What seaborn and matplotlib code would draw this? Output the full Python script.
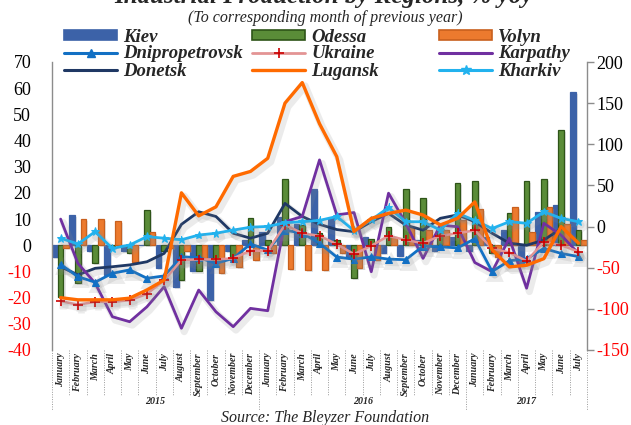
import numpy as np
import pandas as pd
import matplotlib
matplotlib.use("Agg")
import matplotlib.pyplot as plt
import matplotlib.patheffects as pe
import matplotlib.transforms as mtransforms
from matplotlib.lines import Line2D
from matplotlib.patches import Patch
import seaborn as sns

# ---------------- data ----------------
month_names = ["January", "February", "March", "April", "May", "June", "July",
               "August", "September", "October", "November", "December"]
month_labels = month_names + month_names + month_names[:7]
years = ["2015", "2016", "2017"]

# bars (left axis, %)
kiev = [-4.4, 11.6, -2.0, -11.3, -2.0, 0.0, -8.8, -15.8, -10.0, -20.9, -2.0, 2.0,
        5.0, 10.9, 8.0, 21.4, 10.4, -5.0, 3.0, -3.0, -4.0, 2.0, -2.0, 3.0,
        -2.0, 3.0, 5.9, -8.1, 12.8, 15.4, 58.6]
odessa = [-19.6, -14.5, -6.9, -1.0, -3.1, 13.5, -2.0, -13.3, -10.0, -6.9, -5.7, 10.3,
          2.0, 25.5, 7.8, 4.5, 2.0, -12.6, 2.5, 7.1, 21.4, 18.0, 7.0, 23.7,
          24.5, -3.0, 12.2, 24.7, 25.5, 44.0, 5.7]
volyn = [-1.0, 10.0, 10.0, 9.4, -6.3, 5.0, -1.0, -2.0, -5.1, -10.7, -8.3, -5.7,
         -3.0, -8.9, -9.5, -9.4, -3.0, -8.5, -5.7, 3.0, 7.0, 5.7, 5.7, 9.7,
         14.0, -4.3, 14.6, 5.0, 14.6, 8.3, 2.0]

# lines (left axis, %)
dnipro = [-7.3, -12.0, -14.1, -10.7, -9.4, -12.6, -11.7, -4.4, -4.7, -6.9, -5.0, 0.5,
          -1.8, 5.8, 4.6, 0.8, -4.5, -5.3, -4.4, -5.3, -5.5, -0.3, -0.6, -1.0,
          2.5, -10.0, -5.9, -5.2, -1.2, -3.1, -4.3]
ukraine = [-21.3, -22.7, -21.6, -21.6, -21.0, -18.6, -13.4, -5.6, -5.4, -5.4, -5.0, -2.1,
           -2.1, 7.8, 4.6, 3.6, 0.4, -3.4, -0.2, 3.6, 2.0, 0.8, 3.6, 4.6,
           5.7, -1.2, -2.8, -6.0, 1.3, 0.0, -2.4]
karpathy = [10.0, -6.9, -14.5, -27.3, -29.2, -23.5, -15.8, -31.7, -17.1, -25.4, -31.1, -24.1,
            -25.0, 9.0, 11.0, 32.6, 11.6, 12.5, -10.1, 19.9, 8.4, -5.0, 7.7, 7.1,
            -6.6, -10.1, 2.7, -16.4, 8.4, 3.9, -3.1]
donetsk = [-8.2, -11.3, -8.8, -8.2, -7.5, -6.3, -3.1, 8.0, 12.8, 11.0, 4.6, 2.7,
           4.6, 16.0, 11.0, 8.0, 6.0, 5.2, 9.0, 12.2, 7.7, 5.8, 10.3, 11.6,
           9.0, 4.6, 0.8, 0.0, 2.0, 6.4, np.nan]
kharkiv = [2.7, 0.5, 5.2, -1.2, 0.1, 3.3, 2.7, 2.1, 3.9, 4.6, 5.8, 6.9,
           7.2, 8.6, 9.0, 9.5, 11.0, 5.6, 9.7, 14.4, 9.0, 9.0, 5.8, 12.2,
           9.5, 6.4, 9.0, 8.4, 12.8, 10.3, 9.0]
# line (right axis, %)
lugansk = [-86.4, -89.0, -89.0, -89.0, -87.0, -77.0, -65.0, 41.0, 13.0, 24.0, 61.0, 67.0,
           83.0, 150.0, 175.0, 125.0, 85.0, -6.0, 10.0, 16.0, 20.0, 14.0, 2.0, 10.0,
           30.0, -28.0, -49.0, -47.0, -39.0, 0.0, -20.0]

# ---------------- styling ----------------
sns.set_theme(style="white")
plt.rcParams["font.family"] = ["Liberation Serif", "DejaVu Serif"]

C_KIEV = "#3C62A8"
C_ODESSA = "#5A8C38"
E_ODESSA = "#2E5418"
C_VOLYN = "#EC7A2E"
E_VOLYN = "#C8601E"
C_DNIPRO = "#1270C4"
C_UKR = "#E39494"
C_KARP = "#7030A0"
C_DON = "#1F3864"
C_LUG = "#FF6A00"
C_KHAR = "#22B2EE"

W, H = 631, 425
fig = plt.figure(figsize=(W / 100, H / 100), dpi=100)
L, R, T, B = 52, 587, 62, 350
ax = fig.add_axes([L / W, 1 - B / H, (R - L) / W, (B - T) / H])
ax.set_facecolor("none")

x = np.arange(len(month_labels))
regions = ["Kiev", "Odessa", "Volyn"]
bar_df = pd.DataFrame({
    "m": np.tile(x, 3),
    "value": kiev + odessa + volyn,
    "region": np.repeat(regions, len(x)),
})
sns.barplot(data=bar_df, x="m", y="value", hue="region", hue_order=regions,
            order=list(x), palette={"Kiev": C_KIEV, "Odessa": C_ODESSA, "Volyn": C_VOLYN},
            width=0.98, errorbar=None, saturation=1, legend=False, ax=ax, zorder=2)
edges = {"Kiev": C_KIEV, "Odessa": E_ODESSA, "Volyn": E_VOLYN}
shadow_patch = [pe.SimplePatchShadow(offset=(1.5, -1.5), shadow_rgbFace="#999999", alpha=0.25), pe.Normal()]
for cont, reg in zip(ax.containers, regions):
    for p in cont.patches:
        p.set_edgecolor(edges[reg])
        p.set_linewidth(0.9)
        p.set_path_effects(shadow_patch)

ax.axhline(0, color="#999999", lw=0.8, ls=(0, (2, 2)), zorder=1)

def shadow(lw):
    return [pe.SimpleLineShadow(offset=(2, -2.5), shadow_color="#888888", alpha=0.16, linewidth=lw + 3), pe.Normal()]

line_specs = [
    (donetsk, C_DON, 2.0, None, {}),
    (karpathy, C_KARP, 2.0, None, {}),
    (dnipro, C_DNIPRO, 2.0, "^", dict(markersize=5, markeredgecolor=C_DNIPRO, markerfacecolor=C_DNIPRO)),
    (ukraine, C_UKR, 1.8, "+", dict(markersize=7, markeredgecolor="#CC0000", markeredgewidth=1.2)),
    (kharkiv, C_KHAR, 2.0, "*", dict(markersize=6, markeredgecolor=C_KHAR, markerfacecolor=C_KHAR)),
]
for vals, col, lw, mk, kw in line_specs:
    sns.lineplot(x=x, y=vals, ax=ax, color=col, linewidth=lw, marker=mk, zorder=4,
                 path_effects=shadow(lw), **kw)

ax.set_xlim(-0.5, len(x) - 0.5)
ax.set_ylim(-40, 70)
ax.set_yticks(range(-40, 71, 10))
ax.set_yticklabels([str(v) for v in range(-40, 71, 10)], fontsize=13)
for t, v in zip(ax.get_yticklabels(), range(-40, 71, 10)):
    t.set_color("red" if v < 0 else "black")
ax.tick_params(axis="y", length=0, pad=15)
ax.set_xticks(x)
ax.set_xticklabels(month_labels, rotation=90, fontsize=7.2, fontweight="bold", fontstyle="italic")
ax.tick_params(axis="x", length=0, pad=2)
ax.set_xlabel("")
ax.set_ylabel("")
ax.grid(False)
for s in ["top", "bottom", "right"]:
    ax.spines[s].set_visible(False)
ax.spines["left"].set_color("#8C8C8C")
ax.spines["left"].set_linewidth(1.0)

# secondary axis
ax2 = ax.twinx()
sns.lineplot(x=x, y=lugansk, ax=ax2, color=C_LUG, linewidth=2.4, zorder=5,
             path_effects=shadow(2.4))
ax2.set_ylim(-150, 200)
ax2.set_yticks(range(-150, 201, 50))
ax2.set_yticklabels([str(v) for v in range(-150, 201, 50)], fontsize=13)
for t, v in zip(ax2.get_yticklabels(), range(-150, 201, 50)):
    t.set_color("red" if v < 0 else "black")
ax2.tick_params(axis="y", length=5, width=1, color="#8C8C8C", pad=2)
ax2.set_ylabel("")
ax2.grid(False)
for s in ["top", "bottom", "left"]:
    ax2.spines[s].set_visible(False)
ax2.spines["right"].set_color("#8C8C8C")
ax2.spines["right"].set_linewidth(1.0)
ax2.set_xlim(-0.5, len(x) - 0.5)

# multi-level category separators
trans = mtransforms.blended_transform_factory(ax.transData, ax.transAxes)
plot_h = B - T
def ax_y(px):
    return (B - px) / plot_h
year_bounds = [-0.5, 11.5, 23.5, len(x) - 0.5]
for b in np.arange(0.5, len(x) - 0.5, 1.0):
    if b in year_bounds:
        continue
    ax.plot([b, b], [0, ax_y(396)], transform=trans, color="#9A9A9A", lw=0.7,
            ls=(0, (1, 1.5)), clip_on=False)
for b in year_bounds:
    ax.plot([b, b], [0, ax_y(410)], transform=trans, color="#9A9A9A", lw=0.7,
            ls=(0, (1, 1.5)), clip_on=False)
for yl, c in zip(years, [5.5, 17.5, 27.0]):
    ax.text(c, ax_y(401), yl, transform=trans, ha="center", va="center",
            fontsize=7.2, fontweight="bold", fontstyle="italic")

# legend: one entry per slot, placed explicitly
def bar_handle(fc, ec):
    return Patch(facecolor=fc, edgecolor=ec, linewidth=1.2)

entries = [
    (bar_handle(C_KIEV, C_KIEV), "Kiev", 64, 37),
    (bar_handle(C_ODESSA, E_ODESSA), "Odessa", 252, 37),
    (bar_handle(C_VOLYN, E_VOLYN), "Volyn", 439, 37),
    (Line2D([], [], color=C_DNIPRO, lw=2.2, marker="^", markersize=6), "Dnipropetrovsk", 64, 54),
    (Line2D([], [], color=C_UKR, lw=2.0, marker="+", markersize=7, markeredgecolor="#CC0000",
            markeredgewidth=1.2), "Ukraine", 252, 54),
    (Line2D([], [], color=C_KARP, lw=2.2), "Karpathy", 439, 54),
    (Line2D([], [], color=C_DON, lw=2.2), "Donetsk", 64, 71),
    (Line2D([], [], color=C_LUG, lw=2.4), "Lugansk", 252, 71),
    (Line2D([], [], color=C_KHAR, lw=2.2, marker="*", markersize=7), "Kharkiv", 439, 71),
]
for h, lab, x0, y0 in entries:
    fig.legend([h], [lab], loc="center left", bbox_to_anchor=(x0 / W, 1 - y0 / H),
               frameon=False, handlelength=2.85, handleheight=0.45, handletextpad=0.3,
               borderpad=0, borderaxespad=0,
               prop=dict(family="Liberation Serif", weight="bold", style="italic", size=13.5))

# titles and source
fig.text(0.512, 1 - 3 / H, "Industrial Production by Regions, % yoy", ha="center", va="baseline",
         fontsize=18, fontweight="bold", fontstyle="italic")
fig.text(0.516, 1 - 17.5 / H, "(To corresponding month of previous year)", ha="center", va="center",
         fontsize=11.5, fontstyle="italic")
fig.text(0.515, 1 - 418 / H, "Source: The Bleyzer Foundation", ha="center", va="center",
         fontsize=11.5, fontstyle="italic")

fig.savefig("out.png", dpi=100)
